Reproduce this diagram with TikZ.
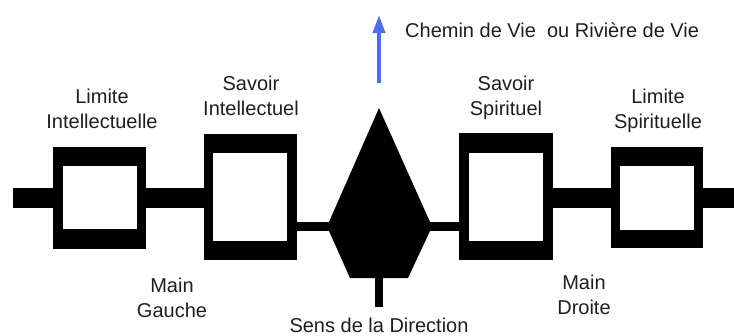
\documentclass[tikz,border=0pt]{standalone}
\usepackage{fontspec}
\setmainfont{Liberation Sans}
\usetikzlibrary{arrows.meta}
\definecolor{arrowblue}{RGB}{77,109,243}
\definecolor{txt}{RGB}{30,30,30}
\begin{document}
\begin{tikzpicture}[x=1pt,y=-1pt,
  thickbar/.style={line width=20pt,draw=black},
  thinbar/.style={line width=9pt,draw=black},
  lbl/.style={font=\fontsize{20}{25}\selectfont,text=txt,align=center,inner sep=0pt,anchor=base},
  flow/.style={-{Triangle[length=18pt,width=12pt]},line width=3.5pt,draw=arrowblue}]
\useasboundingbox (0,0) rectangle (734,335);
% boxes: outer and inner
\path[fill=black] (53,147) rectangle (146,249);
\path[fill=white] (63,166) rectangle (137,229);
\path[fill=black] (204,134) rectangle (297,260);
\path[fill=white] (213,153) rectangle (287,241);
\path[fill=black] (459,133) rectangle (553,260);
\path[fill=white] (469,153) rectangle (543,241);
\path[fill=black] (611,147) rectangle (703,248);
\path[fill=white] (620,166) rectangle (694,230);
% named anchor points
\coordinate (b1w) at (53,198);
\coordinate (b1e) at (146,198);
\coordinate (b2w) at (204,198);
\coordinate (b2e) at (297,226.5);
\coordinate (b3w) at (459,226.5);
\coordinate (b3e) at (553,198);
\coordinate (b4w) at (611,198);
\coordinate (b4e) at (703,198);
\coordinate (lend) at (13,198);
\coordinate (rend) at (734,198);
\coordinate (shw) at (330,226.5);
\coordinate (she) at (430,226.5);
\coordinate (shb) at (379,277);
\coordinate (stemend) at (379,307);
\coordinate (arrs) at (379,83);
\coordinate (arre) at (379,15);
% bars
\draw[thickbar] (lend) -- (b1w);
\draw[thickbar] (b1e) -- (b2w);
\draw[thickbar] (b3e) -- (b4w);
\draw[thickbar] (b4e) -- (rend);
\draw[thinbar] (b2e) -- (shw);
\draw[thinbar] (she) -- (b3w);
% direction shape
\fill[black] (379,108) -- (430,222) -- (430,231) -- (408,278) -- (350,278) -- (329,231) -- (329,222) -- cycle;
\draw[line width=8pt] (shb) -- (stemend);
% arrow
\draw[flow] (arrs) -- (arre);
% labels
\node[lbl,anchor=base west] (chemin) at (405,37) {Chemin de Vie\ \ ou Rivière de Vie};
\node[lbl] (li) at (102,128) {Limite\\Intellectuelle};
\node[lbl] (si) at (251,115) {Savoir\\Intellectuel};
\node[lbl] (ss) at (506,115) {Savoir\\Spirituel};
\node[lbl] (ls) at (658,128) {Limite\\Spirituelle};
\node[lbl] (mg) at (172,317) {Main\\Gauche};
\node[lbl] (md) at (584,314) {Main\\Droite};
\node[lbl] (sd) at (379,332) {Sens de la Direction};
\end{tikzpicture}
\end{document}
